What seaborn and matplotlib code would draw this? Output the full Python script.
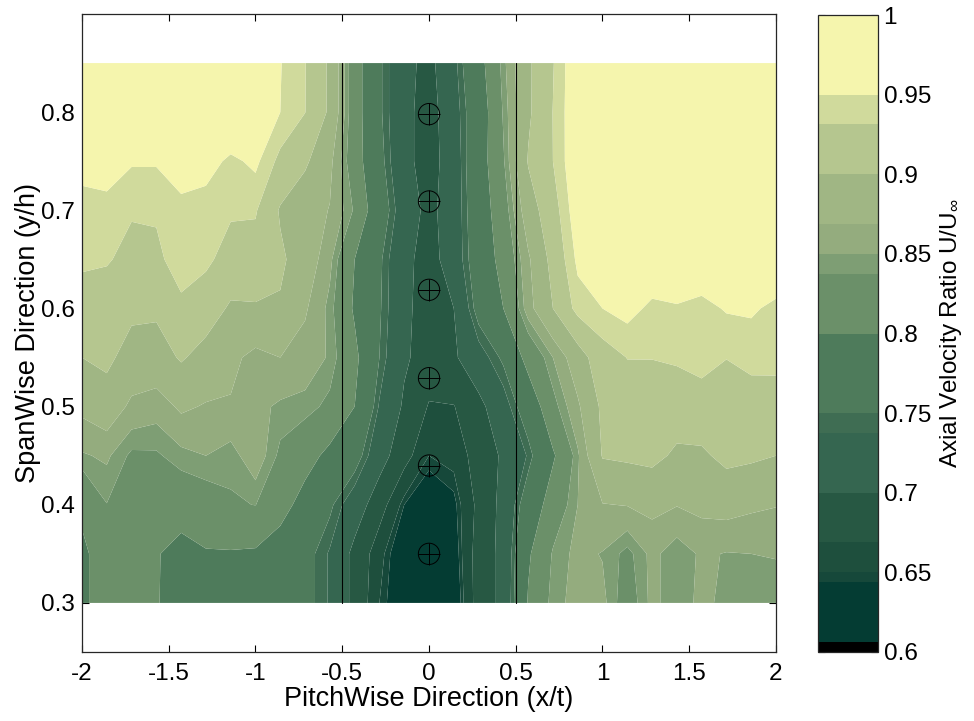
import numpy as np
import matplotlib
matplotlib.use('Agg')
import matplotlib.pyplot as plt
from matplotlib.colors import ListedColormap, BoundaryNorm
import seaborn as sns

sns.set_style('ticks')
plt.rcParams['font.family'] = ['Liberation Sans', 'DejaVu Sans']
plt.rcParams['mathtext.default'] = 'regular'
plt.rcParams['text.color'] = 'k'
plt.rcParams['axes.labelcolor'] = 'k'
plt.rcParams['xtick.labelcolor'] = 'k'
plt.rcParams['ytick.labelcolor'] = 'k'

# contour levels and fill colours as in the colour bar
levels = [0.6, 0.606, 0.644, 0.65, 0.669, 0.70, 0.7375, 0.75, 0.80, 0.8375,
          0.85, 0.869, 0.90, 0.9315, 0.95, 1.0]
colors = ['#000000', '#043C33', '#16483A', '#1E4F3D', '#275843', '#356650',
          '#3F6D53', '#4E7B5B', '#6B9069', '#7E9E74', '#94AC7E', '#A0B684',
          '#B5C68F', '#D0DA9C', '#F5F5AD']
cb_ticks = [0.6, 0.65, 0.7, 0.75, 0.8, 0.85, 0.9, 0.95, 1.0]
cb_labels = ['0.6', '0.65', '0.7', '0.75', '0.8', '0.85', '0.9', '0.95', '1']

span = [0.85, 0.80, 0.75, 0.70, 0.65, 0.60, 0.55, 0.50, 0.45, 0.40, 0.35, 0.30]
pitch = [-2 + 4 * i / 28 for i in range(29)]

row_085 = [.98, .98, .98, .98, .98, .98, .98, .97, .951, .9325, .895, .82, .755, .71, .69, .73, .785, .845, .895, .93, .97, .98, .98, .98, .98, .98, .98, .98, .98]
row_080 = [.98, .98, .98, .98, .98, .98, .98, .97, .95, .932, .895, .82, .755, .71, .685, .725, .775, .84, .895, .932, .97, .98, .98, .98, .98, .98, .98, .98, .98]
row_075 = [.955, .958, .952, .952, .96, .96, .945, .955, .925, .905, .875, .82, .76, .71, .685, .72, .78, .835, .902, .9315, .97, .98, .98, .98, .98, .98, .98, .98, .98]
row_070 = [.945, .945, .935, .935, .945, .94, .935, .934, .897, .88, .868, .835, .77, .72, .69, .72, .775, .825, .885, .92, .965, .98, .98, .98, .98, .98, .98, .98, .98]
row_065 = [.937, .935, .92, .925, .945, .937, .92, .92, .905, .885, .855, .80, .755, .71, .685, .72, .77, .815, .865, .91, .955, .96, .97, .97, .97, .97, .97, .97, .97]
row_060 = [.916, .91, .907, .905, .925, .915, .896, .897, .897, .872, .845, .795, .753, .71, .68, .70, .762, .80, .86, .90, .94, .95, .958, .945, .948, .943, .952, .953, .945]
row_055 = [.90, .907, .887, .887, .903, .889, .875, .862, .869, .86, .848, .81, .75, .705, .685, .695, .725, .755, .815, .85, .885, .92, .932, .932, .935, .94, .932, .938, .937]
row_050 = [.875, .885, .864, .858, .873, .867, .867, .855, .847, .845, .832, .80, .735, .695, .667, .668, .69, .725, .77, .83, .865, .906, .919, .92, .915, .92, .919, .92, .922]
row_045 = [.848, .853, .834, .835, .845, .85, .843, .862, .833, .815, .79, .765, .715, .678, .65, .655, .68, .705, .74, .795, .847, .902, .905, .908, .895, .895, .908, .905, .90]
row_040 = [.81, .837, .81, .815, .82, .825, .835, .838, .815, .785, .755, .72, .68, .644, .63, .64, .675, .71, .77, .82, .85, .868, .87, .875, .87, .875, .878, .873, .87]
row_035 = [.79, .825, .82, .803, .785, .797, .797, .795, .78, .76, .735, .69, .655, .63, .625, .635, .68, .71, .795, .84, .855, .849, .832, .855, .84, .853, .849, .85, .851]
row_030 = [.79, .825, .82, .803, .78, .78, .78, .78, .775, .76, .735, .69, .65, .63, .62, .63, .68, .71, .803, .845, .855, .855, .825, .855, .84, .855, .845, .842, .842]

ratio = np.array([row_085, row_080, row_075, row_070, row_065, row_060,
                  row_055, row_050, row_045, row_040, row_035, row_030])

probe_y = [0.35, 0.44, 0.529, 0.619, 0.709, 0.798]
probe_x = [0, 0, 0, 0, 0, 0]
blade_x = [-0.5, 0.5]

W, H = 974, 721
fig = plt.figure(figsize=(W / 100, H / 100), dpi=100)
ax = fig.add_axes([82 / W, 1 - 652 / H, 694 / W, 638 / H])
cax = fig.add_axes([818 / W, 1 - 652 / H, 60 / W, 637 / H])

cmap = ListedColormap(colors)
norm = BoundaryNorm(levels, cmap.N)
cf = ax.contourf(pitch, span, ratio, levels=levels, cmap=cmap, norm=norm,
                 antialiased=True)

for xb in blade_x:
    ax.plot([xb, xb], [0.3, 0.85], color='k', lw=0.8)
sns.scatterplot(x=probe_x, y=probe_y, ax=ax, marker='o', s=235, facecolor='none',
                edgecolor='k', linewidth=0.7, zorder=5)
sns.scatterplot(x=probe_x, y=probe_y, ax=ax, marker='+', s=235, color='k',
                linewidth=0.7, zorder=5)

ax.set_xlim(-2, 2)
ax.set_ylim(0.25, 0.9)
ax.set_xticks([-2, -1.5, -1, -0.5, 0, 0.5, 1, 1.5, 2])
ax.set_xticklabels(['-2', '-1.5', '-1', '-0.5', '0', '0.5', '1', '1.5', '2'])
ax.set_yticks([0.3, 0.4, 0.5, 0.6, 0.7, 0.8])
ax.tick_params(direction='in', length=5, width=0.8, labelsize=17.5, top=True, right=True, color='k')
ax.tick_params(axis='x', pad=8)
ax.tick_params(axis='y', pad=5)
ax.set_xlabel('PitchWise Direction (x/t)', fontsize=19.5, labelpad=1)
ax.set_ylabel('SpanWise Direction (y/h)', fontsize=19.5, labelpad=0)
for s in ax.spines.values():
    s.set_linewidth(0.9)

cb = fig.colorbar(cf, cax=cax, spacing='proportional', ticks=cb_ticks, drawedges=False)
cb.ax.set_yticklabels(cb_labels)
cb.ax.tick_params(direction='in', length=5, width=0.8, labelsize=17.5, left=True, right=True, pad=4)
cb.ax.minorticks_off()
cb.outline.set_linewidth(0.9)
cb.set_label('Axial Velocity Ratio U/U$_{\\infty}$', fontsize=17.5, labelpad=5)

fig.savefig('out.png', dpi=100)
